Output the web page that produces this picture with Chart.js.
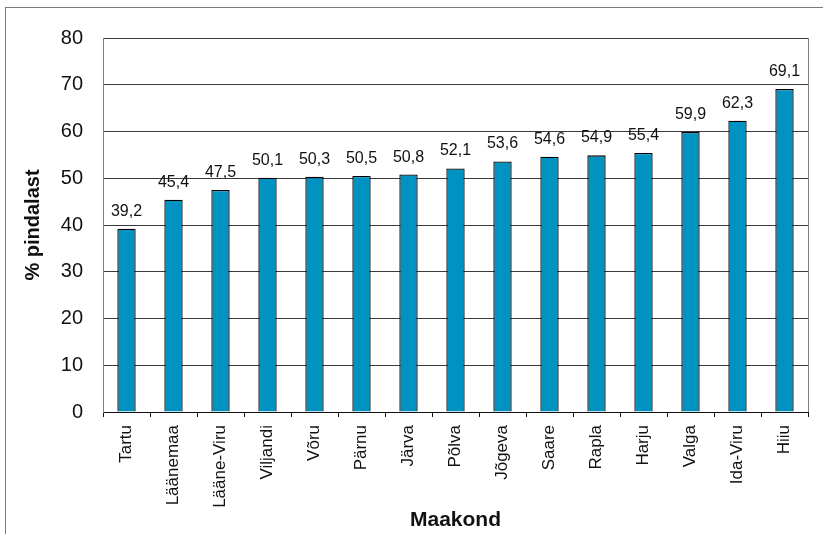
<!DOCTYPE html>
<html>
<head>
<meta charset="utf-8">
<script src="https://cdn.jsdelivr.net/npm/chart.js@4"></script>
<style>
html,body{margin:0;padding:0;background:#fff;}
#wrap{width:823px;height:534px;position:relative;}
</style>
</head>
<body>
<div id="wrap"><canvas id="c" width="823" height="534"></canvas></div>
<script>
const categories = ["Tartu","Läänemaa","Lääne-Viru","Viljandi","Võru","Pärnu","Järva","Põlva","Jõgeva","Saare","Rapla","Harju","Valga","Ida-Viru","Hiiu"];
const values = [39.2,45.4,47.5,50.1,50.3,50.5,50.8,52.1,53.6,54.6,54.9,55.4,59.9,62.3,69.1];
const yTicks = [0,10,20,30,40,50,60,70,80];
const yTitle = "% pindalast";
const xTitle = "Maakond";

const FONT = "'Liberation Sans', Arial, sans-serif";

const framePlugin = {
  id: 'frame',
  beforeDraw(chart) {
    const ctx = chart.ctx;
    ctx.save();
    ctx.fillStyle = '#fff';
    ctx.fillRect(0, 0, chart.width, chart.height);
    ctx.strokeStyle = '#7a7a7a';
    ctx.lineWidth = 1;
    ctx.strokeRect(5.5, 7.5, 1000, 1000);
    ctx.restore();
  },
  afterDraw(chart) {
    const ctx = chart.ctx;
    const a = chart.chartArea;
    ctx.save();
    ctx.strokeStyle = '#808080';
    ctx.lineWidth = 1;
    ctx.beginPath();
    ctx.moveTo(Math.round(a.right) + 0.5, a.top);
    ctx.lineTo(Math.round(a.right) + 0.5, a.bottom);
    ctx.stroke();
    // value labels
    const meta = chart.getDatasetMeta(0);
    ctx.fillStyle = '#111';
    ctx.font = "16px " + FONT;
    ctx.textAlign = 'center';
    ctx.textBaseline = 'alphabetic';
    meta.data.forEach((bar, i) => {
      const txt = values[i].toFixed(1).replace('.', ',');
      ctx.fillText(txt, bar.x, bar.y - 13);
    });
    ctx.restore();
  }
};

new Chart(document.getElementById('c'), {
  type: 'bar',
  data: {
    labels: categories,
    datasets: [{
      data: values,
      backgroundColor: '#0093C2',
      borderColor: '#000',
      borderWidth: 1.3,
      inflateAmount: 0,
      barPercentage: 0.39,
      categoryPercentage: 1.0
    }]
  },
  options: {
    responsive: false,
    animation: false,
    devicePixelRatio: 1,
    layout: { padding: { top: 38, right: 15, left: 0, bottom: 0 } },
    plugins: {
      legend: { display: false },
      tooltip: { enabled: false }
    },
    scales: {
      x: {
        afterFit(s) { s.height = 122; },
        grid: { drawOnChartArea: false, drawTicks: true, tickLength: 5, color: '#111', offset: true },
        border: { color: '#111', width: 1 },
        ticks: {
          minRotation: 90, maxRotation: 90, autoSkip: false,
          padding: 8,
          color: '#111',
          font: { family: FONT, size: 17 }
        },
        title: {
          display: true, text: xTitle, color: '#111',
          font: { family: FONT, size: 21, weight: 'bold' },
          padding: { top: 0, bottom: 1 }
        }
      },
      y: {
        min: 0, max: 80,
        afterFit(s) { s.width = 103; },
        afterBuildTicks(s) { s.ticks = yTicks.map(v => ({ value: v })); },
        grid: { drawTicks: false, color: '#3a3a3a', lineWidth: 1 },
        border: { color: '#808080', width: 1 },
        ticks: {
          stepSize: 10,
          padding: 20,
          color: '#111',
          font: { family: FONT, size: 20 }
        },
        title: {
          display: true, text: yTitle, color: '#111',
          font: { family: FONT, size: 20, weight: 'bold' },
          padding: { top: 21, bottom: 0 }
        }
      }
    }
  },
  plugins: [framePlugin]
});
</script>
</body>
</html>
